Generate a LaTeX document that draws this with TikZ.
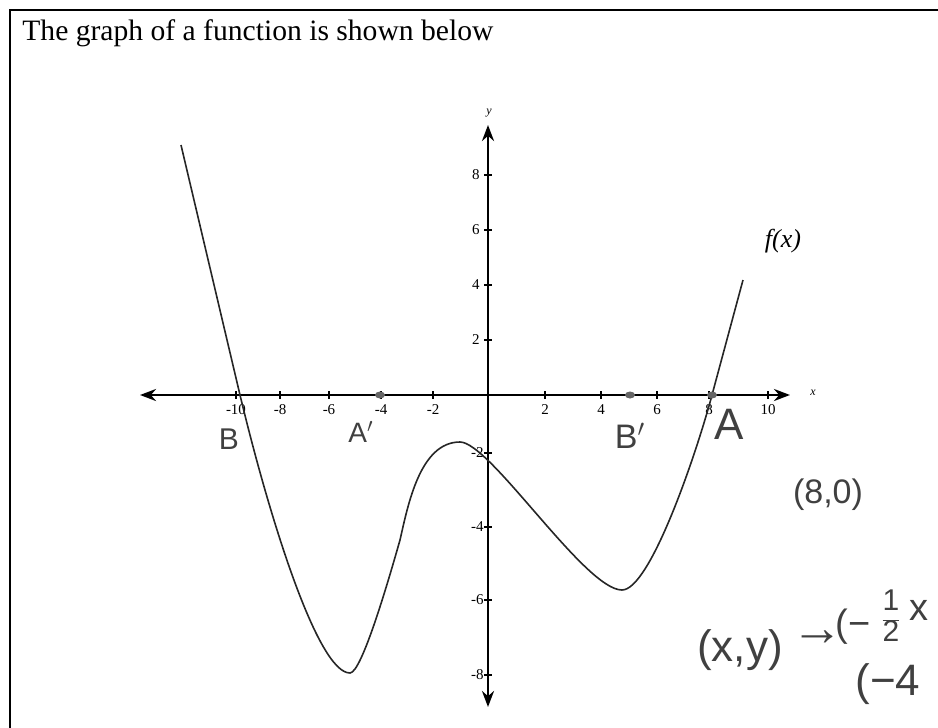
\documentclass[tikz,border=0pt]{standalone}
\usepackage{fontspec}
\setmainfont{Liberation Serif}
\newfontfamily\handfont{Liberation Sans}
\usetikzlibrary{arrows.meta,shapes.geometric}

\begin{document}
\begin{tikzpicture}[x=0.5pt,y=-0.5pt,
  axis/.style={line width=1.4pt,{Stealth[length=8pt,width=6pt]}-{Stealth[length=8pt,width=6pt]}},
  graph/.style={line width=0.8pt,black!85},
  tick/.style={line width=0.6pt},
  num/.style={font=\fontsize{7.5}{8}\selectfont,inner sep=0pt},
  hand/.style={font=\handfont\fontsize{#1}{#1}\selectfont,text=black!75,inner sep=0pt},
  hand/.default=16,
  spot/.style={ellipse,fill=black!60,inner sep=0pt,minimum width=5pt,minimum height=3.5pt}]
\useasboundingbox (0,0) rectangle (938,728);
% frame and heading
\draw[line width=1.4pt] (938,10) -- (10,10) -- (10,728);
\node[anchor=base west,inner sep=0pt,font=\fontsize{14.8}{16}\selectfont] (title) at (22,40) {The graph of a function is shown below};
% axes
\coordinate (xleft) at (140,395);
\coordinate (xright) at (790,395);
\coordinate (ytop) at (488,125);
\coordinate (ybottom) at (488,707);
\draw[axis] (xleft) -- (xright);
\draw[axis] (ybottom) -- (ytop);
\node[font=\itshape\fontsize{6}{6}\selectfont] (xname) at (813,393) {x};
\node[font=\itshape\fontsize{6}{6}\selectfont] (yname) at (489,113) {y};
% ticks
\draw[tick] (236,391) -- (236,399) (280,391) -- (280,399) (329,391) -- (329,399)
  (381,391) -- (381,399) (433,391) -- (433,399) (545,391) -- (545,399)
  (601,391) -- (601,399) (657,391) -- (657,399) (709,391) -- (709,399)
  (768,391) -- (768,399);
\draw[tick] (484,175) -- (492,175) (484,230) -- (492,230) (484,285) -- (492,285)
  (484,340) -- (492,340) (484,453) -- (492,453) (484,527) -- (492,527)
  (484,600) -- (492,600) (484,675) -- (492,675);
\node[num] (xm10) at (236,410) {-10};
\node[num] (xm8) at (280,410) {-8};
\node[num] (xm6) at (329,410) {-6};
\node[num] (xm4) at (381,410) {-4};
\node[num] (xm2) at (433,410) {-2};
\node[num] (xp2) at (545,410) {2};
\node[num] (xp4) at (601,410) {4};
\node[num] (xp6) at (657,410) {6};
\node[num] (xp8) at (709,410) {8};
\node[num] (xp10) at (768,410) {10};
\node[num,anchor=east] (yp8) at (480,175) {8};
\node[num,anchor=east] (yp6) at (480,230) {6};
\node[num,anchor=east] (yp4) at (480,285) {4};
\node[num,anchor=east] (yp2) at (480,340) {2};
\node[num,anchor=east] (ym2) at (484,453) {-2};
\node[num,anchor=east] (ym4) at (484,527) {-4};
\node[num,anchor=east] (ym6) at (484,600) {-6};
\node[num,anchor=east] (ym8) at (484,675) {-8};
% the curve
\draw[graph] (181,145) -- (240,395)
  .. controls (270,520) and (318,673) .. (350,673)
  .. controls (362,673) and (390,575) .. (400,540)
  .. controls (408,505) and (420,442) .. (460,442)
  .. controls (490,442) and (585,590) .. (622,590)
  .. controls (650,590) and (696,455) .. (712,395)
  -- (743,280);
\node[font=\itshape\fontsize{13}{13}\selectfont] (flabel) at (783,241) {f(x)};
% marks written on the sheet
\node[spot] (dotAp) at (380,395) {};
\node[spot] (dotBp) at (630,395) {};
\node[spot] (dotA) at (712,395) {};
\node[hand=15] (lblB) at (229,439) {B};
\node[hand=14] (lblAp) at (361,432) {A$'$};
\node[hand=17] (lblBp) at (630,436) {B$'$};
\node[hand=22] (lblA) at (729,424) {A};
\node[hand=17] (pointA) at (828,495) {(8,0)};
\node[hand=22] (rulexy) at (740,650) {(x,y)};
\node[hand=26] (ruleto) at (817,638) {→};
\node[hand=19] (rulepar) at (853,627) {(−};
\node[hand=15] (rulehalf) at (891,620) {\begin{tabular}{@{}c@{}}1\\\hline 2\end{tabular}};
\node[hand=19] (rulex) at (919,610) {x};
\node[hand=22] (rulefour) at (888,684) {(−4};
\end{tikzpicture}
\end{document}
